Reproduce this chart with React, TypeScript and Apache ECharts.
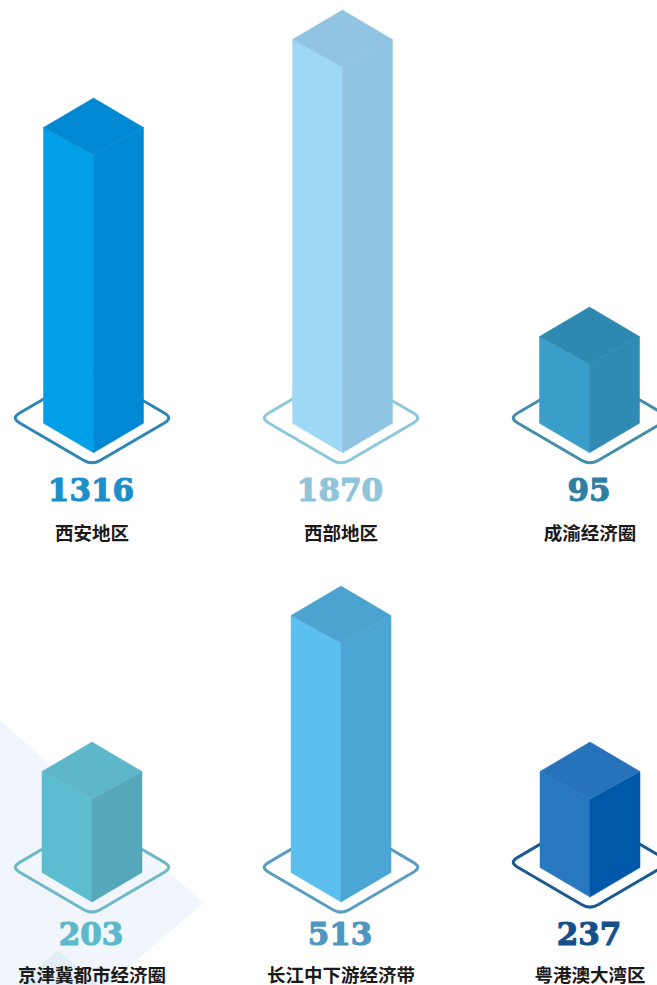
import React, { useEffect, useRef } from "react";
import * as echarts from "echarts";

// Data
const topRegions = ["西安地区", "西部地区", "成渝经济圈"];
const topValues = [1316, 1870, 95];
const topColumnHeights = [354.7, 442.7, 145.7];

const bottomRegions = ["京津冀都市经济圈", "长江中下游经济带", "粤港澳大湾区"];
const bottomValues = [203, 513, 237];
const bottomColumnHeights = [160, 316, 155];

type Tone = { left: string; right: string; top: string; plate: string; num: string };
const topTones: Tone[] = [
  { left: "#009fe8", right: "#0088d4", top: "#0088d2", plate: "#2e86b4", num: "#1c8fca" },
  { left: "#9fd8f6", right: "#8fc5e3", top: "#90c4e2", plate: "#8cc8dc", num: "#8fc4da" },
  { left: "#3b9dca", right: "#2f8bb3", top: "#2e89b1", plate: "#458ea8", num: "#2f7fa3" },
];
const bottomTones: Tone[] = [
  { left: "#5cbdd1", right: "#55a8b9", top: "#5db6c9", plate: "#6fb8c8", num: "#5cb8ca" },
  { left: "#5bc0f0", right: "#4ba6d5", top: "#4ca3d0", plate: "#5b9fc0", num: "#4f97c0" },
  { left: "#2878c0", right: "#0058a8", top: "#2673bb", plate: "#1a5a90", num: "#154f8c" },
];

const topNudgeX = [1.5, 1.5, -0.5];
const bottomNudgeX = [0, 0, 0];
const bottomNudgeY = [0, 0, -5];

const PLATE = "roundDiamond";
echarts.graphic.registerShape(
  PLATE,
  (echarts.graphic as any).extendShape({
    shape: { cx: 0, cy: 0, hw: 10, hh: 10, f: 0.07 },
    buildPath(ctx: any, s: any) {
      const v = [
        [s.cx - s.hw, s.cy],
        [s.cx, s.cy - s.hh],
        [s.cx + s.hw, s.cy],
        [s.cx, s.cy + s.hh],
      ];
      const lerp = (a: number[], b: number[], t: number) => [a[0] + (b[0] - a[0]) * t, a[1] + (b[1] - a[1]) * t];
      const start = lerp(v[0], v[1], s.f);
      ctx.moveTo(start[0], start[1]);
      for (let i = 1; i <= 4; i++) {
        const cur = v[i % 4];
        const prev = v[i - 1];
        const next = v[(i + 1) % 4];
        const a = lerp(cur, prev, s.f);
        const b = lerp(cur, next, s.f);
        ctx.lineTo(a[0], a[1]);
        ctx.quadraticCurveTo(cur[0], cur[1], b[0], b[1]);
      }
      ctx.closePath();
    },
  })
);

const HW = 50;
const RISE = 29.5;
const FRONT = 57;

function makeRenderItem(
  regions: string[],
  values: number[],
  tones: Tone[],
  nudgeX: number[],
  nudgeY: number[],
  numOffset: number,
  labelOffset: number
) {
  return (params: any, api: any) => {
    const i = params.dataIndex;
    const tone = tones[i];
    const [plateX, rowBase] = api.coord([api.value(0), 0]);
    const [, apexRaw] = api.coord([api.value(0), api.value(1)]);
    const cx = plateX + nudgeX[i];
    const base = rowBase + nudgeY[i];
    const apex = apexRaw + nudgeY[i];
    const frontTop = apex + FRONT;
    const shoulder = apex + RISE;
    const cornerBottom = base - RISE;
    const poly = (points: number[][], fill: string) => ({
      type: "polygon",
      shape: { points },
      style: { fill, stroke: fill, lineWidth: 0.5 },
    });
    return {
      type: "group",
      children: [
        {
          type: PLATE,
          shape: { cx: plateX, cy: base - 34.7, hw: 80.8, hh: 47.2, f: 0.1 },
          style: { fill: "none", stroke: tone.plate, lineWidth: 3 },
        },
        poly([[cx - HW, shoulder], [cx, frontTop], [cx, base], [cx - HW, cornerBottom]], tone.left),
        poly([[cx + HW, shoulder], [cx, frontTop], [cx, base], [cx + HW, cornerBottom]], tone.right),
        poly([[cx, apex], [cx + HW, shoulder], [cx, frontTop], [cx - HW, shoulder]], tone.top),
        {
          type: "text",
          style: {
            x: plateX - 1,
            y: rowBase + numOffset,
            text: String(values[i]),
            fill: tone.num,
            stroke: tone.num,
            lineWidth: 1.1,
            font: 'bold 31px "DejaVu Serif"',
            align: "center",
            verticalAlign: "middle",
          },
        },
        {
          type: "text",
          style: {
            x: plateX,
            y: rowBase + labelOffset,
            text: regions[i],
            fill: "#1a1a1a",
            font: 'bold 18.5px "Noto Sans CJK SC"',
            align: "center",
            verticalAlign: "middle",
          },
        },
      ],
    };
  };
}

export default function App() {
  const ref = useRef<HTMLDivElement>(null);
  useEffect(() => {
    document.body.style.margin = "0";
    const chart = echarts.init(ref.current!, null, { renderer: "svg" });
    const hiddenY = (gridIndex: number) => ({ type: "value", gridIndex, min: 0, max: 460, show: false });
    const hiddenX = (gridIndex: number, data: string[]) => ({ type: "category", gridIndex, data, show: false });
    chart.setOption({
      animation: false,
      backgroundColor: "#ffffff",
      graphic: [
        {
          type: "polygon",
          z: -1,
          silent: true,
          shape: { points: [[0, 720], [203, 903], [108, 985], [0, 985]] },
          style: { fill: "#f0f6fc" },
        },
        {
          type: "polygon",
          z: -1,
          silent: true,
          shape: { points: [[58, 950], [98, 985], [18, 985]] },
          style: { fill: "#e3edf5" },
        },
      ],
      grid: [
        { left: -32.5, width: 747, top: -7.3, height: 460, outerBoundsMode: "none" },
        { left: -32.5, width: 747, top: 442, height: 460, outerBoundsMode: "none" },
      ],
      xAxis: [hiddenX(0, topRegions), hiddenX(1, bottomRegions)],
      yAxis: [hiddenY(0), hiddenY(1)],
      series: [
        {
          type: "custom",
          xAxisIndex: 0,
          yAxisIndex: 0,
          clip: false,
          data: topColumnHeights.map((h, i) => [i, h]),
          renderItem: makeRenderItem(topRegions, topValues, topTones, topNudgeX, [0, 0, 0], 37, 79.7),
        },
        {
          type: "custom",
          xAxisIndex: 1,
          yAxisIndex: 1,
          clip: false,
          data: bottomColumnHeights.map((h, i) => [i, h]),
          renderItem: makeRenderItem(bottomRegions, bottomValues, bottomTones, bottomNudgeX, bottomNudgeY, 32, 71.5),
        },
      ],
    });
    return () => chart.dispose();
  }, []);
  return <div ref={ref} style={{ width: 657, height: 985, overflow: "hidden" }} />;
}
